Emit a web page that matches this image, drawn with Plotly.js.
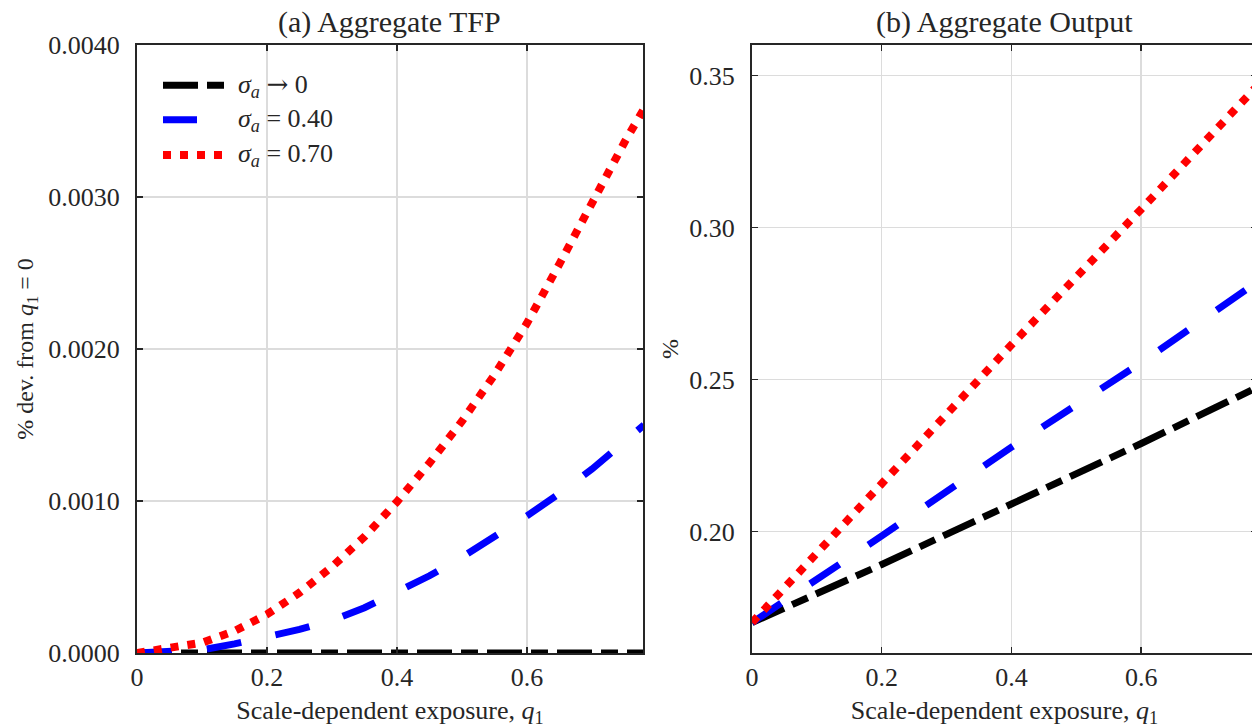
<!DOCTYPE html>
<html>
<head>
<meta charset="utf-8">
<script src="https://cdn.plot.ly/plotly-3.0.1.min.js"></script>
<style>
  html, body { margin: 0; padding: 0; overflow: hidden; background: #ffffff; }
</style>
</head>
<body>
<div id="chart"></div>
<script>
// Scale-dependent exposure q1 (x values)
const tfpQ = [0, 0.05, 0.10, 0.15, 0.20, 0.25, 0.30, 0.35, 0.40, 0.45, 0.50, 0.55, 0.60, 0.65, 0.70, 0.75, 0.78];
// Aggregate TFP, % deviation from q1 = 0
const tfpSigma0  = [0, 0, 0, 0, 0, 0, 0, 0, 0, 0, 0, 0, 0, 0, 0, 0, 0];
const tfpSigma40 = [0, 0.000005, 0.00002, 0.00006, 0.000102, 0.000155, 0.000215, 0.000298, 0.000402, 0.000508, 0.00063, 0.00076, 0.000902, 0.00105, 0.00121, 0.00139, 0.0015];
const tfpSigma70 = [0, 0.00003, 0.000068, 0.000145, 0.000254, 0.000397, 0.000567, 0.000765, 0.000995, 0.00125, 0.001525, 0.00183, 0.00217, 0.00256, 0.00297, 0.00336, 0.00358];

// Aggregate output, %
const outQ = [0, 0.2, 0.4, 0.6, 0.78];
const outSigma0  = [0.170, 0.1891, 0.2090, 0.2289, 0.2475];
const outSigma40 = [0.170, 0.1985, 0.2277, 0.2555, 0.2822];
const outSigma70 = [0.170, 0.2160, 0.2614, 0.3060, 0.3468];

// Axis ticks
const qTicks = [0, 0.2, 0.4, 0.6];
const qTickText = ['0', '0.2', '0.4', '0.6'];
const tfpTicks = [0, 0.001, 0.002, 0.003, 0.004];
const outTicks = [0.20, 0.25, 0.30, 0.35];

// Legend labels
const seriesNames = [
  '<i>σ</i><sub><i>a</i></sub> <span style="font-family:DejaVu Serif">→</span> 0',
  '<i>σ</i><sub><i>a</i></sub> = 0.40',
  '<i>σ</i><sub><i>a</i></sub> = 0.70'
];

const FONT = 'Liberation Serif, Times New Roman, serif';
const INK = '#262626';

const styles = [
  { color: '#000000', width: 7, dash: '35px,9px,17px,9px' },
  { color: '#0000ff', width: 7, dash: '35px,35px' },
  { color: '#ff0000', width: 8, dash: '8px,9px' }
];

function line(x, y, i, xa, ya) {
  return {
    type: 'scatter', mode: 'lines', x: x, y: y, xaxis: xa, yaxis: ya,
    name: seriesNames[i], showlegend: false, hoverinfo: 'skip',
    line: { color: styles[i].color, width: styles[i].width, dash: styles[i].dash }
  };
}

const traces = [
  line(tfpQ, tfpSigma0, 0, 'x', 'y'),
  line(tfpQ, tfpSigma40, 1, 'x', 'y'),
  line(tfpQ, tfpSigma70, 2, 'x', 'y'),
  line(outQ, outSigma0, 0, 'x2', 'y2'),
  line(outQ, outSigma40, 1, 'x2', 'y2'),
  line(outQ, outSigma70, 2, 'x2', 'y2')
];

const W = 1262, H = 728;
const yDom = [75 / H, 683 / H];

function xAxis(dom) {
  return {
    domain: dom, range: [0, 0.7785],
    tickvals: qTicks, ticktext: qTickText,
    ticks: 'inside', ticklen: 6, tickwidth: 1.5, tickcolor: INK,
    showline: true, linecolor: INK, linewidth: 2, mirror: 'ticks',
    showgrid: true, gridcolor: '#dcdcdc', gridwidth: 1.5, zeroline: false,
    tickfont: { family: FONT, size: 26, color: INK },
    ticklabelstandoff: 0,
    title: { text: 'Scale-dependent exposure, <i>q</i><sub>1</sub>', font: { family: FONT, size: 26, color: INK }, standoff: 20 }
  };
}
function yAxis(range, ticks, fmt, title, standoff) {
  return {
    domain: yDom, range: range, tickvals: ticks, tickformat: fmt,
    ticks: 'inside', ticklen: 6, tickwidth: 1.5, tickcolor: INK,
    showline: true, linecolor: INK, linewidth: 2, mirror: 'ticks',
    showgrid: true, gridcolor: '#dcdcdc', gridwidth: 1.5, zeroline: false,
    tickfont: { family: FONT, size: 26, color: INK },
    ticklabelstandoff: 10,
    title: { text: title, font: { family: FONT, size: 24, color: INK }, standoff: standoff }
  };
}

// Hand-drawn legend inside panel (a)
const legendRowsY = [0.934, 0.877, 0.819];
const shapes = [];
const annotations = [];
const sampleX0 = (163 - 137) / 506;
const sampleX1 = [(224 - 137) / 506, (197 - 137) / 506, (222 - 137) / 506];
for (let i = 0; i < 3; i++) {
  shapes.push({
    type: 'line', xref: 'x domain', yref: 'y domain',
    x0: sampleX0, x1: sampleX1[i], y0: legendRowsY[i], y1: legendRowsY[i],
    line: { color: styles[i].color, width: styles[i].width, dash: styles[i].dash }
  });
  annotations.push({
    xref: 'x domain', yref: 'y domain', x: (236 - 137) / 506, y: legendRowsY[i],
    xanchor: 'left', yanchor: 'middle', showarrow: false,
    text: seriesNames[i], font: { family: FONT, size: 26, color: INK }
  });
}
// Panel titles
annotations.push({
  xref: 'x domain', yref: 'paper', x: 0.5, y: 1 - 22 / H, xanchor: 'center', yanchor: 'middle',
  showarrow: false, text: '(a) Aggregate TFP', font: { family: FONT, size: 30, color: INK }
});
annotations.push({
  xref: 'x2 domain', yref: 'paper', x: 0.5, y: 1 - 22 / H, xanchor: 'center', yanchor: 'middle',
  showarrow: false, text: '(b) Aggregate Output', font: { family: FONT, size: 30, color: INK }
});

const layout = {
  width: W, height: H,
  margin: { l: 0, r: 0, t: 0, b: 0 },
  paper_bgcolor: '#ffffff', plot_bgcolor: '#ffffff',
  showlegend: false,
  xaxis: xAxis([137 / W, 643 / W]),
  yaxis: yAxis([0, 0.004], tfpTicks, '.4f', '% dev. from <i>q</i><sub>1</sub> = 0', 8),
  xaxis2: Object.assign(xAxis([752 / W, 1257 / W]), { anchor: 'y2' }),
  yaxis2: Object.assign(yAxis([0.16, 0.36], outTicks, '.2f', '%', 4), { anchor: 'x2' }),
  shapes: shapes,
  annotations: annotations
};
layout.xaxis.anchor = 'y';
layout.yaxis.anchor = 'x';

Plotly.newPlot('chart', traces, layout, { displayModeBar: false, staticPlot: true });
</script>
</body>
</html>
